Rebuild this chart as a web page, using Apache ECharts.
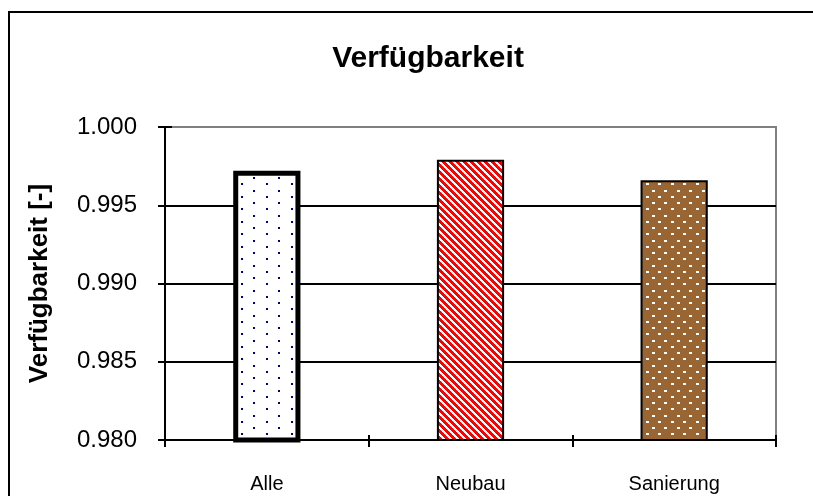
<!DOCTYPE html>
<html>
<head>
<meta charset="utf-8">
<script src="https://cdn.jsdelivr.net/npm/echarts@6/dist/echarts.min.js"></script>
<style>
  html, body { margin: 0; padding: 0; background: #fff; }
  #chart { width: 813px; height: 496px; }
</style>
</head>
<body>
<div id="chart"></div>
<script>
// Availability per building group
const categories = ['Alle', 'Neubau', 'Sanierung'];
const availability = [0.9972, 0.9979, 0.9966];
const yMin = 0.980;
const yMax = 1.000;
const yStep = 0.005;

// Fill patterns drawn on small tiles
function makeTile(w, h, draw) {
  const c = document.createElement('canvas');
  c.width = w; c.height = h;
  const ctx = c.getContext('2d');
  draw(ctx, w, h);
  return c;
}

// sparse navy dots on white
const dotsNavy = makeTile(25, 25, (ctx) => {
  ctx.fillStyle = '#ffffff';
  ctx.fillRect(0, 0, 25, 25);
  ctx.fillStyle = '#000080';
  [[3, 2], [16, 8], [3, 15], [16, 21]].forEach(([x, y]) => ctx.fillRect(x, y, 2, 2));
});

// red downward diagonal stripes on white
const stripesRed = makeTile(7, 7, (ctx) => {
  ctx.fillStyle = '#ffffff';
  ctx.fillRect(0, 0, 7, 7);
  ctx.fillStyle = '#ff0000';
  for (let y = 0; y < 7; y++) {
    for (let x = 0; x < 7; x++) {
      if ((((x - y) % 7) + 7) % 7 < 4) ctx.fillRect(x, y, 1, 1);
    }
  }
});

// white dots on brown
const dotsBrown = makeTile(25, 25, (ctx) => {
  ctx.fillStyle = '#996633';
  ctx.fillRect(0, 0, 25, 25);
  ctx.fillStyle = '#ffffff';
  [[2, 2], [14, 2], [8, 8], [21, 8], [2, 15], [14, 15], [8, 21], [21, 21]]
    .forEach(([x, y]) => ctx.fillRect(x, y, 3, 2));
});

const barStyles = [
  { color: { image: dotsNavy, repeat: 'repeat' }, borderColor: '#000', borderWidth: 5 },
  { color: { image: stripesRed, repeat: 'repeat' }, borderColor: '#000', borderWidth: 2 },
  { color: { image: dotsBrown, repeat: 'repeat' }, borderColor: '#000', borderWidth: 2 }
];

const font = 'Liberation Sans, Arial, sans-serif';

const chart = echarts.init(document.getElementById('chart'), null, { renderer: 'canvas' });

chart.setOption({
  animation: false,
  backgroundColor: '#ffffff',
  title: {
    text: 'Verfügbarkeit',
    left: 423,
    top: 39,
    textAlign: 'center',
    textStyle: { fontFamily: font, fontSize: 30, fontWeight: 'bold', color: '#000' }
  },
  graphic: [{
    type: 'rect',
    shape: { x: 9, y: 12, width: 900, height: 600 },
    style: { fill: null, stroke: '#000', lineWidth: 2 },
    silent: true,
    z: 100
  }],
  grid: {
    left: 165, top: 127, right: 37, bottom: 56,
    show: true,
    borderColor: '#808080',
    borderWidth: 2,
    backgroundColor: '#ffffff'
  },
  xAxis: [{
    type: 'category',
    data: categories,
    axisLine: { lineStyle: { color: '#000', width: 2 } },
    axisTick: { show: true, length: 7, lineStyle: { color: '#000', width: 2 } },
    axisLabel: { fontFamily: font, fontSize: 20, color: '#000', margin: 34 },
    splitLine: { show: false }
  }, {
    type: 'category',
    data: categories,
    position: 'bottom',
    axisLine: { show: false },
    axisTick: { show: true, inside: true, length: 5, lineStyle: { color: '#000', width: 2 } },
    axisLabel: { show: false },
    splitLine: { show: false }
  }],
  yAxis: [{
    type: 'value',
    min: yMin,
    max: yMax,
    interval: yStep,
    name: 'Verfügbarkeit [-]',
    nameLocation: 'middle',
    nameGap: 112,
    nameTextStyle: { fontFamily: font, fontSize: 26, fontWeight: 'bold', color: '#000' },
    axisLine: { show: true, lineStyle: { color: '#000', width: 2 } },
    axisTick: { show: true, length: 7, lineStyle: { color: '#000', width: 2 } },
    axisLabel: {
      fontFamily: font, fontSize: 24, color: '#000', margin: 28,
      formatter: (v) => v.toFixed(3)
    },
    splitLine: {
      show: true,
      showMaxLine: false,
      lineStyle: { color: '#000', width: 2 }
    }
  }, {
    type: 'value',
    min: yMin,
    max: yMax,
    interval: yStep,
    position: 'left',
    axisLine: { show: false },
    axisTick: { show: true, inside: true, length: 7, lineStyle: { color: '#000', width: 2 } },
    axisLabel: { show: false },
    splitLine: { show: false }
  }],
  series: [{
    type: 'bar',
    xAxisIndex: 0,
    yAxisIndex: 0,
    barWidth: '33%',
    data: availability.map((v, i) => ({ value: v, itemStyle: barStyles[i] })),
    z: 3
  }]
});
</script>
</body>
</html>
